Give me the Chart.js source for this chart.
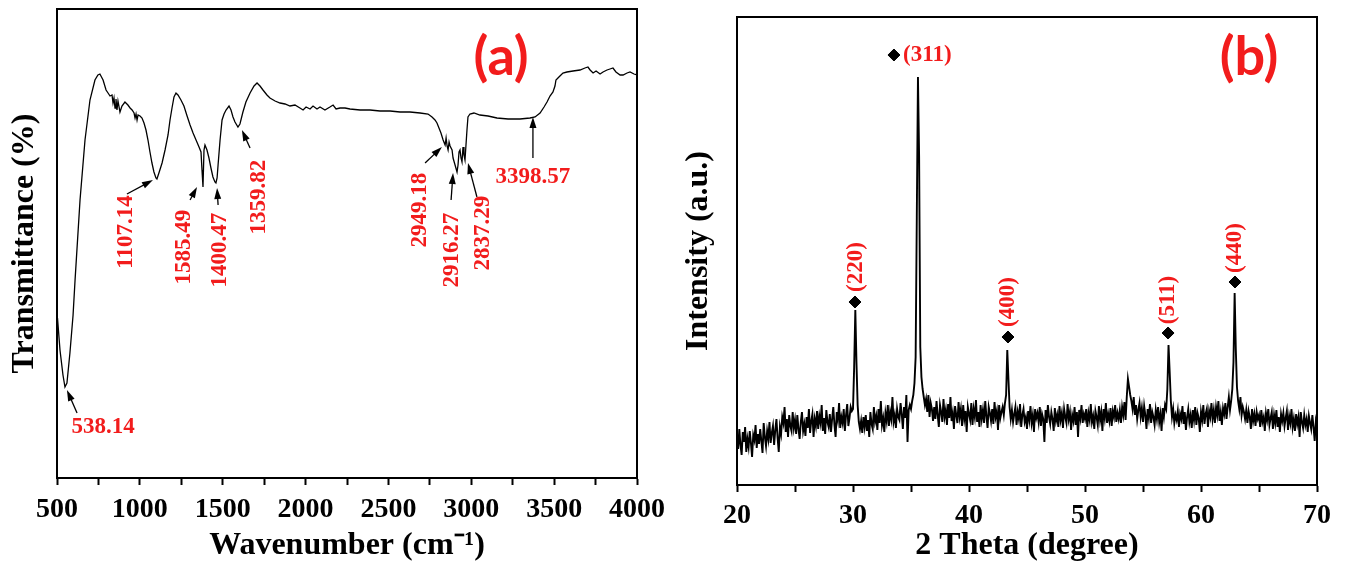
<!DOCTYPE html>
<html>
<head>
<meta charset="utf-8">
<script src="https://cdn.jsdelivr.net/npm/chart.js@4.4.1/dist/chart.umd.min.js"></script>
<style>
  html, body { margin: 0; padding: 0; background: #fff; }
  #wrap { position: relative; width: 1349px; height: 572px; }
  .panel { position: absolute; top: 0; height: 572px; }
  #left { left: 0; width: 674px; }
  #right { left: 674px; width: 675px; }
</style>
</head>
<body>
<div id="wrap">
  <div class="panel" id="left"><canvas id="ftirChart"></canvas></div>
  <div class="panel" id="right"><canvas id="xrdChart"></canvas></div>
</div>
<script>
// (a) FTIR spectrum (transmittance in arbitrary units)
const ftirWavenumber = [503, 518, 536, 548, 560, 578, 597, 609, 639, 669, 699, 729, 747, 759, 778, 796, 808, 820, 832, 838,
  844, 850, 856, 862, 868, 880, 892, 910, 928, 941, 953, 965, 971, 977, 983, 989, 1001, 1013, 1025, 1037,
  1049, 1061, 1073, 1085, 1097, 1103, 1115, 1134, 1152, 1170, 1182, 1194, 1206, 1218, 1230, 1248, 1266, 1285, 1303, 1321,
  1339, 1357, 1369, 1375, 1381, 1387, 1393, 1405, 1417, 1429, 1441, 1453, 1459, 1466, 1472, 1484, 1496, 1508, 1520, 1538,
  1550, 1562, 1574, 1592, 1604, 1622, 1640, 1665, 1689, 1707, 1725, 1743, 1767, 1785, 1816, 1846, 1876, 1906, 1936, 1966,
  1985, 2003, 2027, 2045, 2069, 2087, 2117, 2147, 2166, 2184, 2208, 2238, 2268, 2329, 2389, 2449, 2510, 2570, 2630, 2691,
  2739, 2763, 2781, 2793, 2805, 2817, 2830, 2842, 2848, 2854, 2860, 2866, 2872, 2884, 2890, 2902, 2914, 2920, 2926, 2932,
  2938, 2944, 2950, 2956, 2962, 2968, 2974, 2980, 2992, 3016, 3052, 3101, 3155, 3222, 3294, 3354, 3385, 3415, 3439, 3457,
  3475, 3493, 3505, 3511, 3523, 3535, 3553, 3577, 3614, 3656, 3686, 3704, 3717, 3735, 3753, 3777, 3795, 3819, 3837, 3855,
  3873, 3898, 3916, 3940, 3958, 3982, 4000];
const ftirTransmittance = [166, 134, 109, 97, 101, 131, 169, 204, 284, 344, 384, 404, 409, 410, 404, 394, 391, 388, 389, 381,
  386, 376, 385, 374, 383, 372, 378, 382, 379, 376, 374, 371, 366, 370, 364, 369, 368, 366, 361, 354,
  344, 332, 321, 312, 306, 305, 311, 321, 334, 349, 364, 376, 387, 391, 389, 384, 378, 368, 359, 351,
  344, 337, 332, 314, 297, 334, 339, 334, 326, 316, 307, 302, 301, 306, 319, 344, 364, 370, 374, 378,
  374, 367, 362, 357, 360, 372, 382, 391, 398, 401, 398, 394, 389, 386, 383, 381, 380, 378, 379, 376,
  374, 377, 375, 378, 375, 377, 374, 377, 379, 375, 376, 376, 375, 374, 374, 373, 373, 372, 372, 371,
  370, 367, 364, 361, 356, 351, 344, 339, 346, 338, 334, 342, 338, 334, 326, 319, 312, 319, 332, 334,
  326, 322, 337, 329, 324, 339, 354, 367, 370, 371, 369, 368, 366, 365, 365, 366, 367, 371, 377, 382,
  388, 392, 398, 404, 406, 408, 411, 412, 413, 414, 416, 417, 414, 411, 413, 410, 412, 414, 415, 416,
  412, 409, 409, 411, 412, 410, 409];
const ftirPeakNames = ['538.14', '1107.14', '1585.49', '1400.47', '1359.82', '2949.18', '2916.27', '2837.29', '3398.57'];

// (b) XRD pattern: one reading every 0.1 degree from 20 to 70 (arbitrary intensity)
const xrdStart = 20;
const xrdStep = 0.1;
const xrdIntensity = [
  30, 18, 38, 22, 12, 35, 25, 40, 15, 28,
  20, 36, 24, 10, 32, 27, 42, 19, 33, 23,
  38, 26, 14, 44, 30, 21, 36, 28, 45, 24,
  34, 41, 22, 37, 48, 29, 15, 40, 33, 50,
  44, 60, 35, 48, 30, 52, 41, 36, 55, 39,
  47, 33, 52, 38, 28, 45, 55, 36, 43, 31,
  50, 39, 58, 34, 46, 53, 30, 48, 41, 56,
  38, 51, 44, 62, 36, 49, 33, 57, 45, 40,
  53, 35, 48, 60, 42, 30, 55, 47, 64, 39,
  50, 44, 58, 36, 52, 63, 41, 49, 60, 56,
  58, 100, 157, 104, 62, 45, 38, 46, 34, 50,
  40, 52, 36, 47, 30, 55, 43, 38, 60, 45,
  51, 37, 58, 44, 66, 42, 49, 35, 54, 46,
  62, 41, 55, 48, 70, 45, 52, 39, 58, 50,
  47, 64, 53, 38, 60, 49, 72, 25, 57, 62,
  58, 66, 72, 84, 110, 250, 390, 310, 120, 90,
  78, 70, 62, 68, 55, 72, 50, 64, 58, 46,
  60, 48, 66, 52, 40, 62, 55, 45, 68, 50,
  57, 42, 63, 49, 70, 46, 54, 38, 61, 52,
  44, 65, 50, 58, 41, 62, 48, 56, 35, 60,
  53, 47, 64, 42, 58, 50, 67, 45, 55, 40,
  62, 48, 57, 44, 66, 51, 39, 60, 54, 46,
  58, 43, 65, 50, 56, 37, 62, 49, 55, 60,
  52, 64, 72, 117, 88, 60, 48, 57, 45, 53,
  60, 42, 55, 48, 63, 40, 52, 58, 45, 50,
  38, 56, 47, 61, 44, 52, 35, 58, 49, 54,
  45, 60, 41, 53, 48, 25, 57, 44, 62, 50,
  43, 55, 48, 36, 59, 46, 52, 40, 61, 47,
  54, 39, 58, 50, 44, 63, 48, 55, 37, 52,
  46, 60, 42, 55, 30, 57, 49, 62, 44, 53,
  48, 58, 40, 54, 47, 63, 45, 51, 38, 56,
  50, 42, 61, 47, 55, 36, 58, 49, 64, 44,
  53, 46, 59, 41, 56, 50, 62, 45, 54, 48,
  57, 44, 60, 52, 65, 47, 70, 88, 80, 72,
  66, 58, 70, 52, 62, 48, 57, 64, 50, 59,
  45, 61, 52, 38, 58, 49, 63, 44, 55, 50,
  42, 57, 48, 60, 45, 53, 36, 59, 50, 62,
  58, 78, 122, 95, 66, 50, 58, 44, 52, 47,
  56, 40, 53, 48, 61, 43, 55, 37, 50, 58,
  45, 52, 39, 57, 47, 60, 42, 54, 49, 35,
  55, 47, 62, 43, 53, 58, 40, 56, 50, 64,
  48, 57, 44, 60, 52, 66, 46, 55, 42, 59,
  53, 64, 48, 60, 70, 57, 66, 78, 105, 174,
  118, 80, 66, 58, 70, 52, 60, 55, 48, 57,
  44, 56, 50, 38, 58, 46, 53, 41, 55, 48,
  52, 40, 57, 45, 50, 36, 54, 47, 58, 42,
  49, 55, 38, 52, 44, 57, 40, 50, 35, 53,
  46, 54, 41, 49, 56, 37, 51, 44, 58, 40,
  48, 36, 53, 43, 50, 30, 55, 45, 39, 52,
  42, 48, 35, 51, 44, 38, 52, 40, 26, 45,
  38];
const xrdPeakHkl = ['(220)', '(311)', '(400)', '(511)', '(440)'];

const serif = '"Liberation Serif", "Times New Roman", serif';
const red = '#f21c1c';

// draws the box round the plot, the arrows, the red peak names and the panel letter
const notesPlugin = {
  id: 'notes',
  afterDatasetsDraw(chart, args, opts) {
    const {ctx, chartArea: a, scales: {x, y}} = chart;
    ctx.save();
    ctx.strokeStyle = '#000';
    ctx.lineWidth = 2;
    ctx.strokeRect(a.left, a.top, a.right - a.left, a.bottom - a.top);

    ctx.fillStyle = '#000';
    ctx.lineWidth = 1.3;
    (opts.arrows || []).forEach(ar => {
      const x0 = x.getPixelForValue(ar.from[0]), y0 = y.getPixelForValue(ar.from[1]);
      const x1 = x.getPixelForValue(ar.to[0]), y1 = y.getPixelForValue(ar.to[1]);
      const t = Math.atan2(y1 - y0, x1 - x0), c = Math.cos(t), s = Math.sin(t);
      ctx.beginPath();
      ctx.moveTo(x0, y0);
      ctx.lineTo(x1 - 6 * c, y1 - 6 * s);
      ctx.stroke();
      ctx.beginPath();
      ctx.moveTo(x1, y1);
      ctx.lineTo(x1 - 11 * c + 3.5 * s, y1 - 11 * s - 3.5 * c);
      ctx.lineTo(x1 - 11 * c - 3.5 * s, y1 - 11 * s + 3.5 * c);
      ctx.closePath();
      ctx.fill();
    });

    ctx.fillStyle = red;
    ctx.textBaseline = 'middle';
    ctx.font = 'bold 23px ' + serif;
    (opts.labels || []).forEach(l => {
      ctx.save();
      ctx.translate(x.getPixelForValue(l.at[0]), y.getPixelForValue(l.at[1]));
      if (l.rotate) ctx.rotate(-Math.PI / 2);
      ctx.textAlign = l.align || 'center';
      ctx.fillText(l.text, 0, 0);
      ctx.restore();
    });

    if (opts.panel) {
      ctx.font = 'bold 54px Lato, "Open Sans", sans-serif';
      ctx.textAlign = 'center';
      ctx.fillText(opts.panel.text, x.getPixelForValue(opts.panel.at[0]), y.getPixelForValue(opts.panel.at[1]));
    }
    ctx.restore();
  }
};

const tickFont = {family: serif, weight: 'bold', size: 28};
const titleFont = {family: serif, weight: 'bold', size: 32};

function xAxis(min, max, step, major, title, height, pad) {
  return {
    type: 'linear', min: min, max: max,
    afterFit: axis => { axis.height = height; },
    grid: {drawOnChartArea: false, drawTicks: true, tickLength: 7, tickWidth: 2, tickColor: '#000'},
    border: {display: true, color: '#000', width: 2},
    ticks: {stepSize: step, autoSkip: false, maxRotation: 0, color: '#000', font: tickFont, padding: pad,
      callback: v => (v % major === 0 ? String(v) : '')},
    title: {display: true, text: title, color: '#000', font: titleFont, padding: {top: 0, bottom: 7}}
  };
}

function yAxis(min, max, title, width) {
  return {
    type: 'linear', min: min, max: max,
    afterFit: axis => { axis.width = width; },
    grid: {display: false},
    border: {display: true, color: '#000', width: 2},
    ticks: {display: false},
    title: {display: true, text: title, color: '#000', font: titleFont, padding: {top: 6, bottom: 0}}
  };
}

const ftirPoints = ftirWavenumber.map((w, i) => ({x: w, y: ftirTransmittance[i]}));

new Chart(document.getElementById('ftirChart'), {
  type: 'line',
  data: {
    datasets: [{
      data: ftirPoints,
      borderColor: '#000',
      borderWidth: 1.3,
      pointRadius: 0,
      tension: 0
    }]
  },
  options: {
    responsive: true,
    maintainAspectRatio: false,
    animation: false,
    layout: {padding: {top: 9, right: 37, left: 0, bottom: 0}},
    scales: {
      x: xAxis(500, 4000, 250, 500, 'Wavenumber (cm\u207B\u00B9)', 94, 8),
      y: yAxis(6, 475, 'Transmittance (%)', 57)
    },
    plugins: {
      legend: {display: false},
      tooltip: {enabled: false},
      notes: {
        panel: {text: '(a)', at: [3180, 426]},
        labels: [
          {text: ftirPeakNames[0], at: [778, 57]},
          {text: ftirPeakNames[1], at: [916, 252], rotate: true},
          {text: ftirPeakNames[2], at: [1266, 237], rotate: true},
          {text: ftirPeakNames[3], at: [1484, 234], rotate: true},
          {text: ftirPeakNames[4], at: [1719, 287], rotate: true},
          {text: ftirPeakNames[5], at: [2691, 274], rotate: true},
          {text: ftirPeakNames[6], at: [2884, 234], rotate: true},
          {text: ftirPeakNames[7], at: [3071, 251], rotate: true},
          {text: ftirPeakNames[8], at: [3372, 307]}
        ],
        arrows: [
          {from: [621, 71], to: [560, 94]},
          {from: [922, 290], to: [1079, 304]},
          {from: [1303, 284], to: [1345, 297]},
          {from: [1472, 279], to: [1466, 296]},
          {from: [1665, 336], to: [1616, 354]},
          {from: [2721, 321], to: [2823, 337]},
          {from: [2878, 284], to: [2890, 311]},
          {from: [3034, 287], to: [2980, 321]},
          {from: [3372, 326], to: [3372, 367]}
        ]
      }
    }
  },
  plugins: [notesPlugin]
});

const xrdPoints = xrdIntensity.map((v, i) => ({x: xrdStart + i * xrdStep, y: v}));
const markerPoints = [
  {x: 30.17, y: 165}, {x: 33.53, y: 412}, {x: 43.36, y: 130}, {x: 57.16, y: 134}, {x: 62.93, y: 185}
];

new Chart(document.getElementById('xrdChart'), {
  type: 'line',
  data: {
    datasets: [{
      data: xrdPoints,
      borderColor: '#000',
      borderWidth: 1.9,
      pointRadius: 0,
      tension: 0
    }, {
      data: markerPoints,
      showLine: false,
      pointStyle: 'rectRot',
      pointRadius: 6,
      backgroundColor: '#000',
      borderColor: '#000'
    }]
  },
  options: {
    responsive: true,
    maintainAspectRatio: false,
    animation: false,
    layout: {padding: {top: 17, right: 32, left: 0, bottom: 0}},
    scales: {
      x: xAxis(20, 70, 5, 10, '2 Theta (degree)', 87, 7),
      y: yAxis(-18, 450, 'Intensity (a.u.)', 63)
    },
    plugins: {
      legend: {display: false},
      tooltip: {enabled: false},
      notes: {
        panel: {text: '(b)', at: [64.14, 409]},
        labels: [
          {text: xrdPeakHkl[0], at: [30.26, 200], rotate: true},
          {text: xrdPeakHkl[1], at: [34.31, 412], align: 'left'},
          {text: xrdPeakHkl[2], at: [43.36, 165], rotate: true},
          {text: xrdPeakHkl[3], at: [57.16, 167], rotate: true},
          {text: xrdPeakHkl[4], at: [62.93, 219], rotate: true}
        ]
      }
    }
  },
  plugins: [notesPlugin]
});
</script>
</body>
</html>
